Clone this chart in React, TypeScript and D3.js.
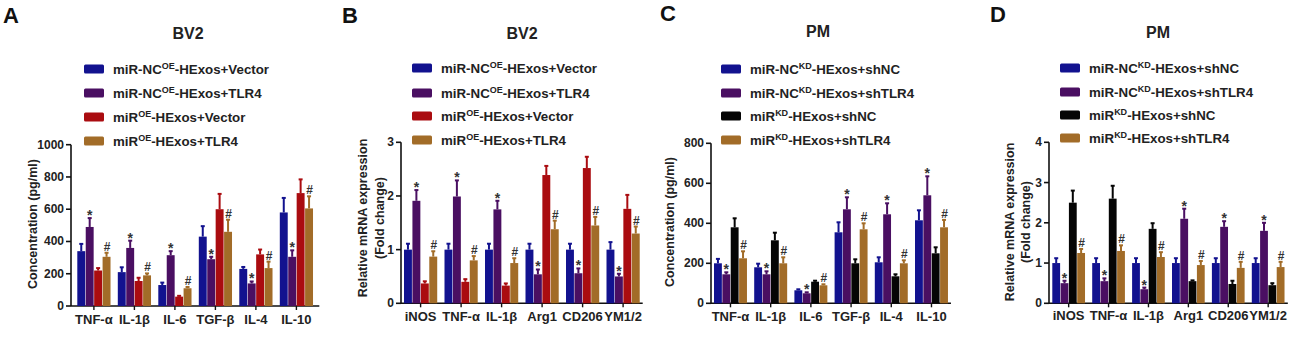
import React from "react";
import * as d3 from "d3";

// ---------- DATA ----------
const catsCyto = ["TNF-α", "IL-1β", "IL-6", "TGF-β", "IL-4", "IL-10"];
const catsGene = ["iNOS", "TNF-α", "IL-1β", "Arg1", "CD206", "YM1/2"];

const legendOE = [
  ["miR-NC", "OE", "-HExos+Vector"],
  ["miR-NC", "OE", "-HExos+TLR4"],
  ["miR", "OE", "-HExos+Vector"],
  ["miR", "OE", "-HExos+TLR4"],
];
const legendKD = [
  ["miR-NC", "KD", "-HExos+shNC"],
  ["miR-NC", "KD", "-HExos+shTLR4"],
  ["miR", "KD", "-HExos+shNC"],
  ["miR", "KD", "-HExos+shTLR4"],
];

// Panel A (BV2, concentration)
const aMean = [
  [340, 210, 130, 430, 230, 580],
  [490, 360, 315, 290, 140, 305],
  [220, 155, 58, 600, 320, 700],
  [305, 190, 110, 460, 235, 605],
];
const aErr = [
  [45, 30, 15, 65, 12, 90],
  [55, 45, 25, 15, 12, 40],
  [15, 20, 5, 95, 30, 85],
  [25, 12, 8, 75, 40, 75],
];
// Panel B (BV2, mRNA)
const bMean = [
  [1, 1, 1, 1, 1, 1],
  [1.91, 1.99, 1.75, 0.54, 0.56, 0.5],
  [0.37, 0.4, 0.33, 2.39, 2.52, 1.76],
  [0.87, 0.8, 0.75, 1.38, 1.45, 1.3],
];
const bErr = [
  [0.11, 0.11, 0.11, 0.11, 0.11, 0.14],
  [0.2, 0.3, 0.16, 0.09, 0.09, 0.05],
  [0.04, 0.05, 0.04, 0.17, 0.21, 0.26],
  [0.1, 0.08, 0.09, 0.16, 0.16, 0.13],
];
// Panel C (PM, concentration)
const cMean = [
  [200, 180, 65, 355, 205, 415],
  [145, 145, 50, 470, 445, 540],
  [380, 315, 108, 200, 135, 250],
  [225, 200, 90, 370, 200, 380],
];
const cErr = [
  [22, 18, 5, 50, 25, 50],
  [10, 15, 5, 60, 55, 95],
  [45, 38, 5, 20, 10, 30],
  [35, 30, 5, 30, 15, 37],
];
// Panel D (PM, mRNA)
const dMean = [
  [1, 1, 1, 1, 1, 1],
  [0.5, 0.55, 0.35, 2.1, 1.9, 1.8],
  [2.5, 2.6, 1.85, 0.55, 0.48, 0.45],
  [1.25, 1.3, 1.15, 0.95, 0.88, 0.9],
];
const dErr = [
  [0.12, 0.12, 0.12, 0.12, 0.12, 0.12],
  [0.06, 0.07, 0.04, 0.25, 0.14, 0.2],
  [0.3, 0.32, 0.14, 0.02, 0.08, 0.05],
  [0.1, 0.14, 0.12, 0.1, 0.15, 0.13],
];

const yTicksA = [0, 200, 400, 600, 800, 1000];
const yTicksB = [0, 1, 2, 3];
const yTicksC = [0, 200, 400, 600, 800];
const yTicksD = [0, 1, 2, 3, 4];

const colorsOE = ["#12128f", "#4a0f62", "#aa0c10", "#a26c28"];
const colorsKD = ["#12128f", "#4a0f62", "#050505", "#a26c28"];

const FONT = "'Liberation Sans', Arial, sans-serif";

type PanelProps = {
  letter: string;
  letterX: number;
  letterY: number;
  title: string;
  titleX: number;
  titleY: number;
  cats: string[];
  mean: number[][];
  err: number[][];
  colors: string[];
  legend: string[][];
  legendX: number;
  legendY: number[];
  axisX: number;
  firstX: number;
  step: number;
  y0: number;
  yTop: number;
  yMax: number;
  ticks: number[];
  yLabel: string[];
  yLabelX: number[];
  yLabelY: number;
  catY: number;
  starSeries: number;
  hashSeries: number;
};

function Panel(p: PanelProps) {
  const n = p.cats.length;
  const pi = 0.18;
  const po = (p.firstX - p.axisX) / p.step;
  const W = p.step * (n - pi + 2 * po);
  const x = d3
    .scaleBand<string>()
    .domain(p.cats)
    .range([p.axisX, p.axisX + W])
    .paddingInner(pi)
    .paddingOuter(po);
  const xs = d3
    .scaleBand<number>()
    .domain([0, 1, 2, 3])
    .range([0, x.bandwidth()])
    .paddingInner(0.06);
  const y = d3.scaleLinear().domain([0, p.yMax]).range([p.y0, p.yTop]);
  const bw = xs.bandwidth();

  return (
    <g fontFamily={FONT} fontWeight="bold">
      <text x={p.letterX} y={p.letterY} fontSize={22} fill="#111">
        {p.letter}
      </text>
      <text x={p.titleX} y={p.titleY} fontSize={16} textAnchor="middle" fill="#222">
        {p.title}
      </text>
      {/* legend */}
      {p.legend.map((l, i) => (
        <g key={i}>
          <rect
            x={p.legendX}
            y={p.legendY[i] - 4.5}
            width={20}
            height={9}
            rx={1.5}
            fill={p.colors[i]}
          />
          <text x={p.legendX + 29} y={p.legendY[i] + 4.5} fontSize={13.3} fill="#222">
            {l[0]}
            <tspan fontSize={9} dy={-5}>
              {l[1]}
            </tspan>
            <tspan dy={5}>{l[2]}</tspan>
          </text>
        </g>
      ))}
      {/* y axis */}
      <line x1={p.axisX} x2={p.axisX} y1={p.yTop} y2={p.y0} stroke="#111" strokeWidth={1.6} />
      {p.ticks.map((t) => (
        <g key={t}>
          <line x1={p.axisX - 5} x2={p.axisX} y1={y(t)} y2={y(t)} stroke="#111" strokeWidth={1.6} />
          <text x={p.axisX - 7} y={y(t) + 4} fontSize={12} textAnchor="end" fill="#222">
            {t}
          </text>
        </g>
      ))}
      {/* x axis */}
      <line x1={p.axisX} x2={p.axisX + W} y1={p.y0} y2={p.y0} stroke="#111" strokeWidth={1.6} />
      {p.cats.map((c) => (
        <g key={c}>
          <line
            x1={x(c)! + x.bandwidth() / 2}
            x2={x(c)! + x.bandwidth() / 2}
            y1={p.y0}
            y2={p.y0 + 4}
            stroke="#111"
            strokeWidth={1.4}
          />
          <text
            x={x(c)! + x.bandwidth() / 2}
            y={p.catY}
            fontSize={13}
            textAnchor="middle"
            fill="#222"
          >
            {c}
          </text>
        </g>
      ))}
      {/* y label */}
      {p.yLabel.map((t, i) => (
        <text
          key={i}
          transform={`translate(${p.yLabelX[i]},${p.yLabelY}) rotate(-90)`}
          fontSize={12.5}
          textAnchor="middle"
          fill="#222"
        >
          {t}
        </text>
      ))}
      {/* bars */}
      {p.mean.map((series, s) =>
        series.map((v, i) => {
          const bx = x(p.cats[i])! + xs(s)!;
          const top = y(v);
          const et = y(v + p.err[s][i]);
          const cx = bx + bw / 2;
          return (
            <g key={`${s}-${i}`}>
              <line x1={cx} x2={cx} y1={top} y2={et} stroke={p.colors[s]} strokeWidth={2} />
              <line x1={cx - 2} x2={cx + 2} y1={et} y2={et} stroke={p.colors[s]} strokeWidth={2} />
              <rect x={bx} y={top} width={bw} height={p.y0 - top} fill={p.colors[s]} />
              {s === p.starSeries && (
                <text x={cx} y={et + 2} fontSize={14} textAnchor="middle" fill="#333">
                  *
                </text>
              )}
              {s === p.hashSeries && (
                <text x={cx + 0.5} y={et - 2} fontSize={12} textAnchor="middle" fill="#333">
                  #
                </text>
              )}
            </g>
          );
        })
      )}
    </g>
  );
}

export default function App() {
  return (
    <svg
      width={1299}
      height={337}
      style={{ position: "absolute", left: 0, top: 0, background: "#fff" }}
    >
      <Panel
        letter="A"
        letterX={3}
        letterY={23}
        title="BV2"
        titleX={188}
        titleY={39}
        cats={catsCyto}
        mean={aMean}
        err={aErr}
        colors={colorsOE}
        legend={legendOE}
        legendX={84}
        legendY={[69, 93, 117, 141]}
        axisX={71}
        firstX={77.3}
        step={40.5}
        y0={306}
        yTop={144.7}
        yMax={1000}
        ticks={yTicksA}
        yLabel={["Concentration (pg/ml)"]}
        yLabelX={[37]}
        yLabelY={224}
        catY={324}
        starSeries={1}
        hashSeries={3}
      />
      <Panel
        letter="B"
        letterX={342}
        letterY={23}
        title="BV2"
        titleX={522}
        titleY={39}
        cats={catsGene}
        mean={bMean}
        err={bErr}
        colors={colorsOE}
        legend={legendOE}
        legendX={412}
        legendY={[68, 93, 116, 140]}
        axisX={401}
        firstX={404}
        step={40.5}
        y0={303.3}
        yTop={142.3}
        yMax={3}
        ticks={yTicksB}
        yLabel={["Relative mRNA expression", "(Fold change)"]}
        yLabelX={[367, 384]}
        yLabelY={218}
        catY={321}
        starSeries={1}
        hashSeries={3}
      />
      <Panel
        letter="C"
        letterX={660}
        letterY={21}
        title="PM"
        titleX={818}
        titleY={37}
        cats={catsCyto}
        mean={cMean}
        err={cErr}
        colors={colorsKD}
        legend={legendKD}
        legendX={721}
        legendY={[69, 93, 116, 140]}
        axisX={711}
        firstX={714}
        step={40.2}
        y0={303.3}
        yTop={143.3}
        yMax={800}
        ticks={yTicksC}
        yLabel={["Concentration (pg/ml)"]}
        yLabelX={[674]}
        yLabelY={222}
        catY={321}
        starSeries={1}
        hashSeries={3}
      />
      <Panel
        letter="D"
        letterX={990}
        letterY={22}
        title="PM"
        titleX={1158}
        titleY={38}
        cats={catsGene}
        mean={dMean}
        err={dErr}
        colors={colorsKD}
        legend={legendKD}
        legendX={1060}
        legendY={[68, 92, 115, 138]}
        axisX={1049}
        firstX={1052.3}
        step={39.9}
        y0={303.3}
        yTop={142.3}
        yMax={4}
        ticks={yTicksD}
        yLabel={["Relative mRNA expression", "(Fold change)"]}
        yLabelX={[1014, 1030]}
        yLabelY={222}
        catY={320}
        starSeries={1}
        hashSeries={3}
      />
    </svg>
  );
}
